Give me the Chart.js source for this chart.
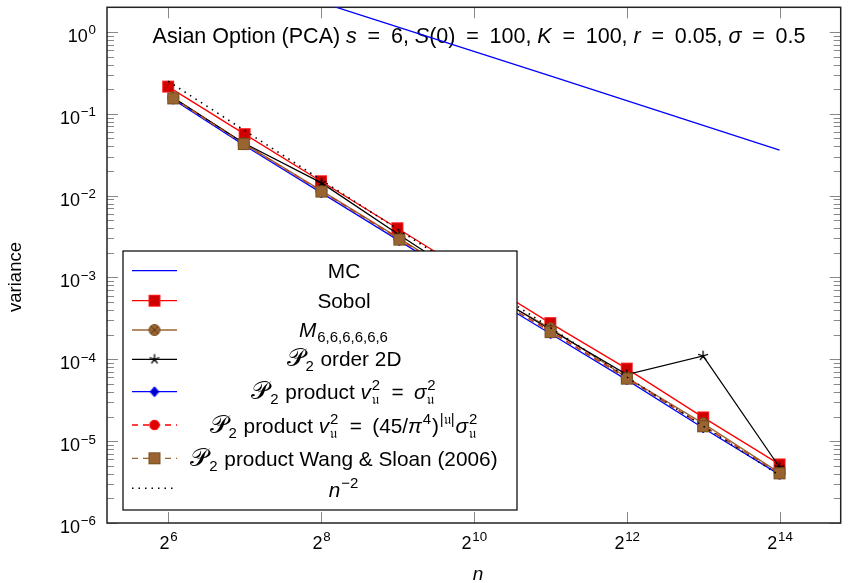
<!DOCTYPE html>
<html><head><meta charset="utf-8">
<script src="https://cdn.jsdelivr.net/npm/chart.js@4/dist/chart.umd.min.js"></script>
<style>html,body{margin:0;padding:0;background:#fff}canvas{display:block}</style>
</head><body>
<canvas id="c" width="848" height="583"></canvas>
<script>
// ---------- data ----------
const nPow = [64, 128, 256, 512, 1024, 2048, 4096, 8192, 16384];
const nLat = [67, 127, 257, 521, 1021, 2053, 4099, 8191, 16381];
const mcVar      = [9.2, 4.6, 2.3, 1.15, 0.58, 0.29, 0.145, 0.072, 0.036];
const sobolVar   = [0.215, 0.0565, 0.0150, 0.0040, 1.05e-3, 2.77e-4, 7.7e-5, 1.95e-5, 5.2e-6];
const mVar       = [0.158, 0.0435, 0.0115, 0.0030, 8.1e-4, 2.4e-4, 6.0e-5, 1.65e-5, 4.1e-6];
const orderVar   = [0.157, 0.0440, 0.0143, 0.0033, 8.5e-4, 2.3e-4, 6.5e-5, 1.10e-4, 4.8e-6];
const prodVar    = [0.150, 0.0415, 0.0108, 0.0028, 7.6e-4, 2.05e-4, 5.6e-5, 1.45e-5, 3.9e-6];
const prod45Var  = [0.155, 0.0430, 0.0113, 0.00295, 7.9e-4, 2.2e-4, 5.9e-5, 1.55e-5, 4.05e-6];
const wangVar    = [0.154, 0.0427, 0.0112, 0.0029, 7.9e-4, 2.15e-4, 5.8e-5, 1.52e-5, 4.04e-6];
const refVar     = [0.25, 0.0625, 0.015625, 0.00390625, 9.77e-4, 2.44e-4, 6.10e-5, 1.53e-5, 3.81e-6];
const xTickVals = [64, 256, 1024, 4096, 16384];
const xTickExp  = ['6', '8', '10', '12', '14'];
const yTickVals = [1, 1e-1, 1e-2, 1e-3, 1e-4, 1e-5, 1e-6];
const yTickExp  = ['0', '−1', '−2', '−3', '−4', '−5', '−6'];
const xMin = 36.76, xMax = 28526, yMin = 1e-6, yMax = 2;

// ---------- styling ----------
const FAM = '"Liberation Sans", Arial, sans-serif';
const BROWN = '#996633';
function mk(w, h, fn){ const c=document.createElement('canvas'); c.width=w; c.height=h; fn(c.getContext('2d'), w/2, h/2); return c; }
const mSobol = mk(14,14,(g)=>{ g.fillStyle='#d00000'; g.fillRect(1.5,1.5,11,11); g.strokeStyle='#ff2020'; g.lineWidth=1; g.strokeRect(1.5,1.5,11,11); });
const mWang  = mk(14,14,(g)=>{ g.fillStyle='#9a6432'; g.fillRect(1.5,1.5,11,11); g.strokeStyle='#76501f'; g.lineWidth=1; g.strokeRect(1.5,1.5,11,11); });
const mOtimes= mk(14,14,(g,cx,cy)=>{ g.beginPath(); g.arc(cx,cy,5.5,0,Math.PI*2); g.fillStyle='#9a6432'; g.fill(); g.strokeStyle='#7a5225'; g.lineWidth=1; g.stroke();
  const d=3.9; g.beginPath(); g.moveTo(cx-d,cy-d); g.lineTo(cx+d,cy+d); g.moveTo(cx+d,cy-d); g.lineTo(cx-d,cy+d); g.strokeStyle='#5a3a18'; g.stroke(); });
const mStar  = mk(14,14,(g,cx,cy)=>{ g.strokeStyle='#000'; g.lineWidth=1.3; g.beginPath(); for(let k=0;k<5;k++){ const a=-Math.PI/2+k*2*Math.PI/5; g.moveTo(cx,cy); g.lineTo(cx+5.2*Math.cos(a), cy+5.2*Math.sin(a)); } g.stroke(); });
const mDiam  = mk(12,12,(g,cx,cy)=>{ g.beginPath(); g.moveTo(cx,cy-5); g.lineTo(cx+4.3,cy); g.lineTo(cx,cy+5); g.lineTo(cx-4.3,cy); g.closePath(); g.fillStyle='#0000d0'; g.fill(); g.strokeStyle='#0000ff'; g.lineWidth=1; g.stroke(); });
const mCirc  = mk(12,12,(g,cx,cy)=>{ g.beginPath(); g.arc(cx,cy,4.8,0,Math.PI*2); g.fillStyle='#e00000'; g.fill(); g.strokeStyle='#ff0000'; g.lineWidth=1; g.stroke(); });

const pts = (xs, ys) => xs.map((x,i)=>({x, y: ys[i]}));
const series = [
  {xs:nPow, ys:mcVar,     color:'#0000ff', dash:[],    marker:null},
  {xs:nPow, ys:sobolVar,  color:'#ff0000', dash:[],    marker:mSobol},
  {xs:nLat, ys:mVar,      color:BROWN,     dash:[],    marker:mOtimes},
  {xs:nLat, ys:orderVar,  color:'#000000', dash:[],    marker:mStar},
  {xs:nLat, ys:prodVar,   color:'#0000ff', dash:[],    marker:mDiam},
  {xs:nLat, ys:prod45Var, color:'#ff0000', dash:[6,5], marker:mCirc},
  {xs:nLat, ys:wangVar,   color:BROWN,     dash:[6,5], marker:mWang},
  {xs:nPow, ys:refVar,    color:'#000000', dash:[1.5,5], marker:null, lw:1.6}
];

// ---------- rich text ----------
function fnt(it, size){ return (it?'italic ':'') + size + 'px ' + FAM; }
function drawRich(ctx, runs, x, y, base, align, ss){
  ss = ss || 0.72;
  const items=[]; let w=0;
  for (const r of runs){
    if (r.t!==undefined){ ctx.font=fnt(r.it,base*(r.sc||1)); items.push({r,x:w}); w+=ctx.measureText(r.t).width; }
    else { let a=0,b=0; ctx.font=fnt(false,base*ss);
      if (r.sup!==undefined) a=ctx.measureText(r.sup).width;
      if (r.sub!==undefined) b=ctx.measureText(r.sub).width;
      items.push({r,x:w+0.8}); w+=Math.max(a,b)+1.8; }
  }
  const x0 = align==='center'? x-w/2 : align==='right'? x-w : x;
  ctx.textAlign='left'; ctx.textBaseline='alphabetic'; ctx.fillStyle='#000';
  for (const {r,x:dx} of items){
    if (r.t!==undefined){ ctx.font=fnt(r.it,base*(r.sc||1)); ctx.fillText(r.t,x0+dx,y); }
    else { ctx.font=fnt(false,base*ss);
      if (r.sup!==undefined) ctx.fillText(r.sup,x0+dx,y-base*0.42);
      if (r.sub!==undefined) ctx.fillText(r.sub,x0+dx,y+base*0.25); }
  }
  return w;
}
const U='𝔲', EQ='\u2002=\u2002';
const PP = {t:'𝒫', sc:1.2};
const titleRuns = [{t:'Asian Option (PCA) '},{t:'s',it:1},{t:EQ+'6, '},{t:'S',it:1},{t:'(0)'+EQ+'100, '},{t:'K',it:1},{t:EQ+'100, '},{t:'r',it:1},{t:EQ+'0.05, '},{t:'σ',it:1},{t:EQ+'0.5'}];
const legendRuns = [
  [{t:'MC'}],
  [{t:'Sobol'}],
  [{t:'M',it:1},{sub:'6,6,6,6,6,6'}],
  [PP,{sub:'2'},{t:' order 2D'}],
  [PP,{sub:'2'},{t:' product '},{t:'v',it:1},{sup:'2',sub:U},{t:EQ},{t:'σ',it:1},{sup:'2',sub:U}],
  [PP,{sub:'2'},{t:' product '},{t:'v',it:1},{sup:'2',sub:U},{t:EQ+'(45/'},{t:'π',it:1},{sup:'4'},{t:')'},{sup:'|'+U+'|'},{t:'σ',it:1},{sup:'2',sub:U}],
  [PP,{sub:'2'},{t:' product Wang & Sloan (2006)'}],
  [{t:'n',it:1},{sup:'−2'}]
];

const decor = {
  id:'decor',
  beforeDatasetsDraw(chart){
    const {ctx, chartArea:a, scales:{x, y}} = chart;
    ctx.save();
    ctx.strokeStyle='#888'; ctx.lineWidth=1;
    ctx.beginPath();
    for (const v of xTickVals){ const px=Math.round(x.getPixelForValue(v))+0.5;
      ctx.moveTo(px,a.bottom); ctx.lineTo(px,a.bottom-11); ctx.moveTo(px,a.top); ctx.lineTo(px,a.top+11); }
    for (let e=-6; e<=0; e++){ for (let m=1; m<=9; m++){ const v=m*Math.pow(10,e); if (v<yMin*0.999||v>yMax*1.001) continue;
      const py=Math.round(y.getPixelForValue(v))+0.5; const L = m===1?11:7;
      ctx.moveTo(a.left,py); ctx.lineTo(a.left+L,py); ctx.moveTo(a.right,py); ctx.lineTo(a.right-L,py); } }
    ctx.stroke();
    ctx.strokeStyle='#222'; ctx.lineWidth=1.5; ctx.strokeRect(a.left, a.top, a.right-a.left, a.bottom-a.top);
    drawRich(ctx, titleRuns, 479, 43, 21.5, 'center');
    ctx.restore();
  },
  afterDraw(chart){
    const {ctx, chartArea:a, scales:{x, y}} = chart;
    ctx.save();
    xTickVals.forEach((v,i)=>{ drawRich(ctx, [{t:'2'},{sup:xTickExp[i]}], x.getPixelForValue(v)+1, 549, 18, 'center', 0.74); });
    yTickVals.forEach((v,i)=>{ drawRich(ctx, [{t:'10'},{sup:yTickExp[i]}], 97, y.getPixelForValue(v)+10, 18, 'right', 0.74); });
    drawRich(ctx, [{t:'n',it:1}], 478, 580, 19, 'center');
    ctx.translate(21, 277); ctx.rotate(-Math.PI/2);
    drawRich(ctx, [{t:'variance'}], 0, 0, 18.5, 'center');
    ctx.restore();
    // legend
    ctx.save();
    const bx=123, by=251, bw=394, bh=259;
    ctx.fillStyle='#fff'; ctx.fillRect(bx,by,bw,bh);
    ctx.strokeStyle='#000'; ctx.lineWidth=1.2; ctx.strokeRect(bx,by,bw,bh);
    const sy=[270.7, 300.7, 330, 359.3, 391.7, 425, 458.3, 488.3];
    const ty=[277.5, 307.5, 337, 366, 399, 432.5, 465.5, 497];
    series.forEach((s,i)=>{
      ctx.save(); ctx.strokeStyle=s.color; ctx.lineWidth=s.lw||1.3; ctx.setLineDash(s.dash);
      ctx.beginPath(); ctx.moveTo(132, sy[i]); ctx.lineTo(177, sy[i]); ctx.stroke(); ctx.restore();
      if (s.marker) ctx.drawImage(s.marker, 154.5 - s.marker.width/2, sy[i]-s.marker.height/2);
      drawRich(ctx, legendRuns[i], 344, ty[i], 20.8, 'center');
    });
    ctx.restore();
  }
};

new Chart(document.getElementById('c'), {
  type:'line',
  data:{ datasets: series.map((s,i)=>({
    data: pts(s.xs, s.ys), borderColor:s.color, backgroundColor:s.color, borderWidth:s.lw||1.3,
    borderDash:s.dash, pointStyle: s.marker||'circle', pointRadius: s.marker?6:0, pointHoverRadius:0,
    tension:0, fill:false, order: series.length-1-i, spanGaps:true
  }))},
  options:{
    responsive:false, animation:false, devicePixelRatio:1,
    layout:{padding:{top:6.5, right:0, left:0, bottom:0}},
    plugins:{legend:{display:false}, tooltip:{enabled:false}, title:{display:false}},
    scales:{
      x:{type:'logarithmic', min:xMin, max:xMax, grid:{display:false}, border:{display:false}, ticks:{display:false}, afterFit:s=>{s.height=60;}},
      y:{type:'logarithmic', min:yMin, max:yMax, grid:{display:false}, border:{display:false}, ticks:{display:false}, afterFit:s=>{s.width=107;}}
    }
  },
  plugins:[decor]
});
</script>
</body></html>
